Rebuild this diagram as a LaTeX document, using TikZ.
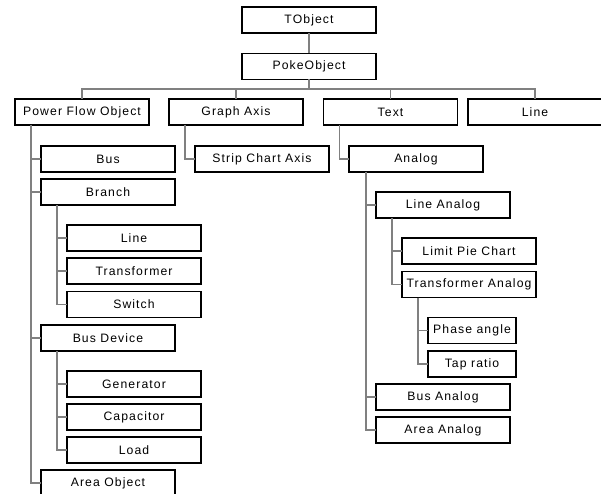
\documentclass[tikz,border=0pt]{standalone}
\usepackage{fontspec}
\setmainfont{Liberation Sans}[LetterSpace=9]
\begin{document}
\begin{tikzpicture}[x=1pt,y=-1pt,
  box/.style={draw=black,line width=1.4pt,fill=white,minimum width=134pt,minimum height=26pt,
    inner sep=0pt,outer sep=0pt,font=\fontsize{12.2}{14}\selectfont,text=black},
  smallbox/.style={box,minimum width=88pt},
  conn/.style={draw=black!50,line width=1.4pt}]
\useasboundingbox (0,0) rectangle (601,494);
% nodes
\node[box] (tobj) at (309,20) {TObject};
\node[box] (poke) at (309,66.5) {PokeObject};
\node[box] (pfo) at (82,112) {Power Flow Object};
\node[box] (ga) at (236,112) {Graph Axis};
\node[box] (text) at (390.5,112) {Text};
\node[box] (line) at (535,112) {Line};
\node[box] (bus) at (108,159) {Bus};
\node[box] (branch) at (108,192) {Branch};
\node[box] (bline) at (134,238) {Line};
\node[box] (trans) at (134,271) {Transformer};
\node[box] (switch) at (134,304.5) {Switch};
\node[box] (busdev) at (108,338) {Bus Device};
\node[box] (gen) at (134,384) {Generator};
\node[box] (cap) at (134,417) {Capacitor};
\node[box] (load) at (134,450) {Load};
\node[box] (area) at (108,483) {Area Object};
\node[box] (strip) at (262,159) {Strip Chart Axis};
\node[box] (analog) at (416,159) {Analog};
\node[box] (lanalog) at (443,205) {Line Analog};
\node[box] (pie) at (469,251) {Limit Pie Chart};
\node[box] (tanalog) at (469,284.5) {Transformer Analog};
\node[smallbox] (phase) at (472,330.5) {Phase angle};
\node[smallbox] (tap) at (472,364) {Tap ratio};
\node[box] (banalog) at (443,397) {Bus Analog};
\node[box] (aanalog) at (443,430) {Area Analog};
% connectors
\coordinate (j) at (309,89);
\draw[conn] (tobj.south) -- (poke.north);
\draw[conn] (poke.south) -- (j);
\draw[conn] (pfo.north) |- (j) -| (line.north);
\draw[conn] (ga.north) |- (j);
\draw[conn] (text.north) |- (j);
\foreach \c in {bus,branch,busdev,area}
  \draw[conn] ([xshift=16pt]pfo.south west) |- (\c.west);
\foreach \c in {bline,trans,switch}
  \draw[conn] ([xshift=16pt]branch.south west) |- (\c.west);
\foreach \c in {gen,cap,load}
  \draw[conn] ([xshift=16pt]busdev.south west) |- (\c.west);
\draw[conn] ([xshift=16pt]ga.south west) |- (strip.west);
\draw[conn] ([xshift=16pt]text.south west) |- (analog.west);
\foreach \c in {lanalog,banalog,aanalog}
  \draw[conn] ([xshift=17pt]analog.south west) |- (\c.west);
\foreach \c in {pie,tanalog}
  \draw[conn] ([xshift=16pt]lanalog.south west) |- (\c.west);
\foreach \c in {phase,tap}
  \draw[conn] ([xshift=16pt]tanalog.south west) |- (\c.west);
\end{tikzpicture}
\end{document}
